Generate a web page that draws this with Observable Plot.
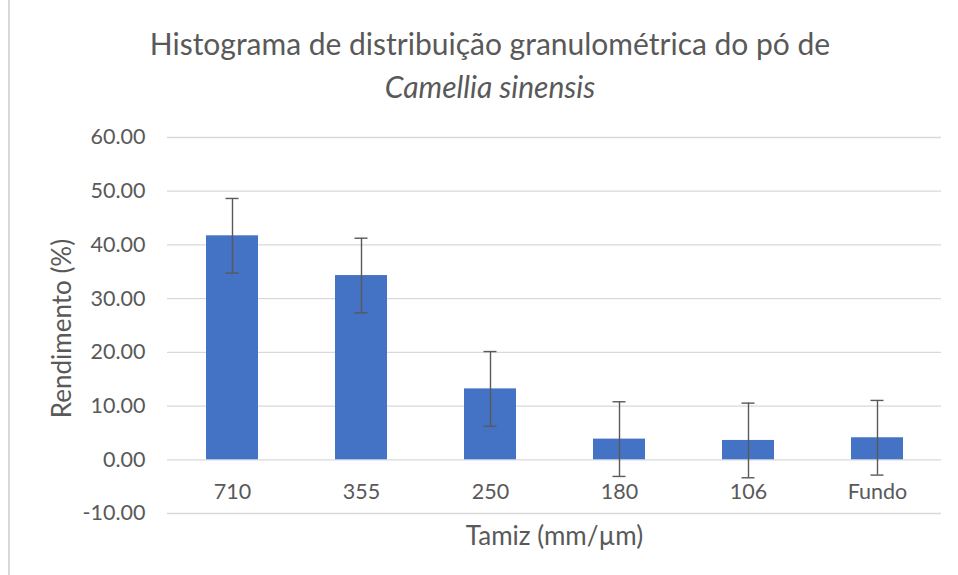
<!DOCTYPE html>
<html>
<head>
<meta charset="utf-8">
<script src="https://cdn.jsdelivr.net/npm/d3@7"></script>
<script src="https://cdn.jsdelivr.net/npm/@observablehq/plot@0.6"></script>
<style>
  html, body { margin: 0; padding: 0; background: #fff; }
  #chart { position: relative; width: 958px; height: 575px; overflow: hidden; }
  #chart svg { font-family: Lato, "Open Sans", sans-serif; }
  #border { position: absolute; left: 8px; top: 0; width: 2px; height: 575px; background: #d9d9d9; }
</style>
</head>
<body>
<div id="chart"><div id="border"></div></div>
<script>
const categories = ["710", "355", "250", "180", "106", "Fundo"];
const values = [41.7, 34.3, 13.2, 3.85, 3.6, 4.1];
const errors = [6.95, 6.95, 6.95, 6.95, 6.95, 6.95];
const yTicks = [-10, 0, 10, 20, 30, 40, 50, 60];
const titleLine1 = "Histograma de distribuição granulométrica do pó de";
const titleLine2 = "Camellia sinensis";
const xTitle = "Tamiz (mm/µm)";
const yTitle = "Rendimento (%)";

const data = categories.map((c, i) => ({cat: c, v: values[i], e: errors[i]}));
const textColor = "#595959";

const plot = Plot.plot({
  width: 958,
  height: 575,
  marginTop: 137,
  marginBottom: 62,
  marginLeft: 167,
  marginRight: 17,
  style: {background: "transparent", color: textColor},
  x: {domain: categories, paddingInner: 0.6, paddingOuter: 0.3, axis: null},
  y: {domain: [-10, 60], ticks: yTicks, tickFormat: d => d.toFixed(2)},
  marks: [
    Plot.gridY(yTicks, {stroke: "#d9d9d9", strokeOpacity: 1, strokeWidth: 1.3}),
    Plot.axisY(yTicks, {tickSize: 0, tickPadding: 22, fontSize: 21.5, fill: textColor, tickFormat: d => d.toFixed(2), label: null}),
    Plot.barY(data, {x: "cat", y: "v", fill: "#4472C4"}),
    Plot.ruleX(data, {x: "cat", y1: d => d.v - d.e, y2: d => d.v + d.e, stroke: "#595959", strokeWidth: 1.4}),
    Plot.tickY(data, {x: "cat", y: d => d.v + d.e, stroke: "#595959", strokeWidth: 1.4, insetLeft: 19.5, insetRight: 19.5}),
    Plot.tickY(data, {x: "cat", y: d => d.v - d.e, stroke: "#595959", strokeWidth: 1.4, insetLeft: 19.5, insetRight: 19.5}),
    Plot.text(categories, {x: d => d, y: () => 0, dy: 32, fontSize: 21.5, fill: textColor}),
    Plot.text([yTitle], {frameAnchor: "left", textAnchor: "middle", lineAnchor: "middle", dx: -105, dy: 3, rotate: -90, fontSize: 26, fill: textColor}),
    Plot.text([xTitle], {frameAnchor: "bottom", lineAnchor: "middle", dy: 22.7, fontSize: 26, fill: textColor}),
    Plot.text([titleLine1], {frameAnchor: "top", lineAnchor: "middle", dx: -64.5, dy: -92.5, fontSize: 30, fill: textColor}),
    Plot.text([titleLine2], {frameAnchor: "top", lineAnchor: "middle", dx: -64.5, dy: -49.5, fontSize: 30, fontStyle: "italic", fill: textColor})
  ]
});
document.getElementById("chart").appendChild(plot);
</script>
</body>
</html>
